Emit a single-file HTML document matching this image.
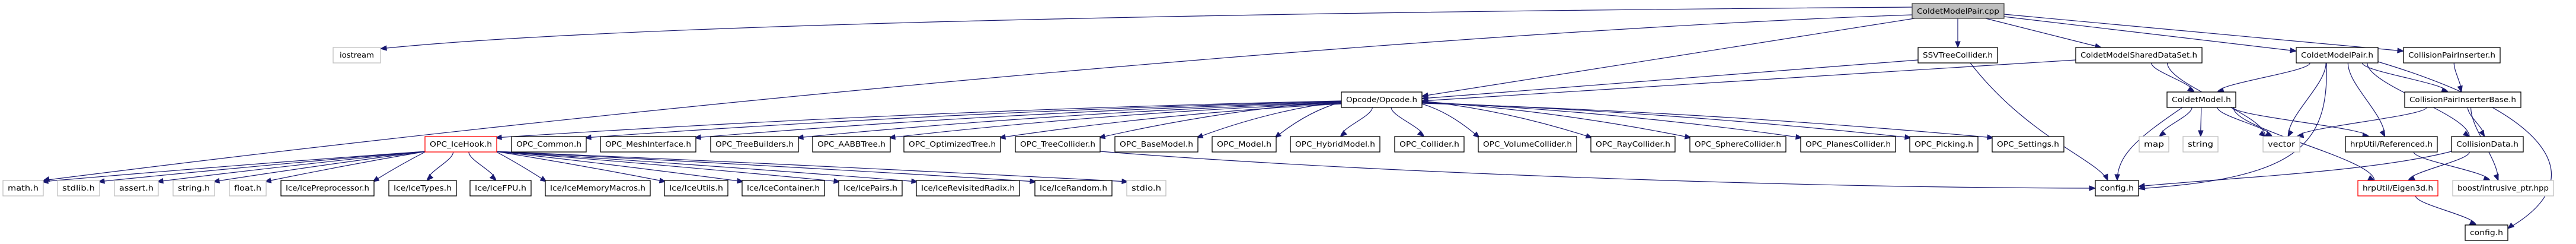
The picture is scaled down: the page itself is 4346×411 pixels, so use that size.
<!DOCTYPE html>
<html><head><meta charset="utf-8"><style>
html,body{margin:0;padding:0;background:#fff;}
svg{display:block;}
text{font-family:"DejaVu Sans","Liberation Sans",sans-serif;font-size:12px;fill:#000;}
</style></head><body>
<svg id="g" width="4346" height="411" viewBox="0 0 4346 411" xmlns="http://www.w3.org/2000/svg">
<g id="edges" fill="none" stroke="#191970" stroke-width="1.2"></g>
<g id="arrows" fill="#191970" stroke="#191970"></g>
<g id="nodes" stroke-width="1.3">
<rect x="3226" y="6" width="155" height="25" fill="#bfbfbf" stroke="#404040"/><text x="3303.5" y="23" text-anchor="middle" textLength="139" lengthAdjust="spacingAndGlyphs">ColdetModelPair.cpp</text>
<rect x="562" y="80" width="80" height="26" fill="#fff" stroke="#bfbfbf"/><text x="602" y="97" text-anchor="middle" textLength="58" lengthAdjust="spacingAndGlyphs">iostream</text>
<rect x="3236" y="80" width="134" height="26" fill="#fff" stroke="#000"/><text x="3303" y="97" text-anchor="middle" textLength="118" lengthAdjust="spacingAndGlyphs">SSVTreeCollider.h</text>
<rect x="3502" y="80" width="213" height="26" fill="#fff" stroke="#000"/><text x="3608.5" y="97" text-anchor="middle" textLength="197" lengthAdjust="spacingAndGlyphs">ColdetModelSharedDataSet.h</text>
<rect x="3874" y="80" width="138" height="26" fill="#fff" stroke="#000"/><text x="3943" y="97" text-anchor="middle" textLength="122" lengthAdjust="spacingAndGlyphs">ColdetModelPair.h</text>
<rect x="4055" y="80" width="163" height="26" fill="#fff" stroke="#000"/><text x="4136.5" y="97" text-anchor="middle" textLength="147" lengthAdjust="spacingAndGlyphs">CollisionPairInserter.h</text>
<rect x="2263" y="155" width="136" height="26" fill="#fff" stroke="#000"/><text x="2331" y="172" text-anchor="middle" textLength="120" lengthAdjust="spacingAndGlyphs">Opcode/Opcode.h</text>
<rect x="3656" y="155" width="116" height="26" fill="#fff" stroke="#000"/><text x="3714" y="172" text-anchor="middle" textLength="100" lengthAdjust="spacingAndGlyphs">ColdetModel.h</text>
<rect x="4057" y="155" width="196" height="26" fill="#fff" stroke="#000"/><text x="4155" y="172" text-anchor="middle" textLength="180" lengthAdjust="spacingAndGlyphs">CollisionPairInserterBase.h</text>
</g>
</svg>
<script>
var N={
cpp:[3226,6,155,25],iostream:[562,80,80,26],ssv:[3236,80,134,26],sds:[3502,80,213,26],cmph:[3874,80,138,26],cpi:[4055,80,163,26],
opc:[2263,155,136,26],cm:[3656,155,116,26],cpib:[4057,155,196,26]};
var row4=[["icehook",717,838,"OPC_IceHook.h","r"],["common",863,989,"OPC_Common.h","b"],["mesh",1013,1174,"OPC_MeshInterface.h","b"],["tb",1199,1347,"OPC_TreeBuilders.h","b"],["aabb",1371,1502,"OPC_AABBTree.h","b"],["opt",1525,1688,"OPC_OptimizedTree.h","b"],["tc",1713,1856,"OPC_TreeCollider.h","b"],["bm",1881,2021,"OPC_BaseModel.h","b"],["model",2045,2153,"OPC_Model.h","b"],["hybrid",2177,2328,"OPC_HybridModel.h","b"],["coll",2353,2470,"OPC_Collider.h","b"],["vol",2494,2660,"OPC_VolumeCollider.h","b"],["ray",2684,2826,"OPC_RayCollider.h","b"],["sph",2851,3013,"OPC_SphereCollider.h","b"],["planes",3038,3198,"OPC_PlanesCollider.h","b"],["pick",3222,3337,"OPC_Picking.h","b"],["sett",3361,3482,"OPC_Settings.h","b"],["map",3609,3659,"map","g"],["string",3683,3742,"string","g"],["vector",3818,3880,"vector","g"],["ref",3957,4112,"hrpUtil/Referenced.h","b"],["cd",4136,4257,"CollisionData.h","b"]];
var row5=[["math",5,73,"math.h","g"],["stdlib",97,168,"stdlib.h","g"],["assert",193,267,"assert.h","g"],["stringh",292,362,"string.h","g"],["float",387,449,"float.h","g"],["pre",474,631,"Ice/IcePreprocessor.h","b"],["types",656,770,"Ice/IceTypes.h","b"],["fpu",793,896,"Ice/IceFPU.h","b"],["mem",920,1097,"Ice/IceMemoryMacros.h","b"],["utils",1121,1228,"Ice/IceUtils.h","b"],["cont",1252,1391,"Ice/IceContainer.h","b"],["pairs",1415,1522,"Ice/IcePairs.h","b"],["radix",1546,1720,"Ice/IceRevisitedRadix.h","b"],["rand",1746,1876,"Ice/IceRandom.h","b"],["stdio",1901,1967,"stdio.h","g"],["config",3535,3608,"config.h","b"],["eigen",3978,4113,"hrpUtil/Eigen3d.h","r"],["boost",4138,4308,"boost/intrusive_ptr.hpp","g"]];
var row6=[["config2",4159,4231,"config.h","b"]];
var ns="http://www.w3.org/2000/svg",nodes=document.getElementById("nodes");
function el(t,a,p){var e=document.createElementNS(ns,t);for(var k in a)e.setAttribute(k,a[k]);(p||nodes).appendChild(e);return e;}
function add(list,y){list.forEach(function(r){var w=r[2]-r[1];N[r[0]]=[r[1],y,w,26];
el("rect",{x:r[1],y:y,width:w,height:26,fill:"#fff",stroke:r[4]=="r"?"#ff0000":(r[4]=="g"?"#bfbfbf":"#000")});
var t=el("text",{x:r[1]+w/2,y:y+17,"text-anchor":"middle",textLength:Math.max(10,w-16),lengthAdjust:"spacingAndGlyphs"});t.textContent=r[3];});}
add(row4,230);add(row5,304);add(row6,379);
var E=document.getElementById("edges"),A=document.getElementById("arrows");
function arrow(x,y,px,py){var dx=x-px,dy=y-py,l=Math.hypot(dx,dy)||1;dx/=l;dy/=l;var L=10,W=4;
var bx=x-dx*L,by=y-dy*L;el("polygon",{points:x+","+y+" "+(bx-dy*W)+","+(by+dx*W)+" "+(bx+dy*W)+","+(by-dx*W)},A);}
function path(d,tx,ty,px,py){el("path",{d:d},E);arrow(tx,ty,px,py);}
function edge(s,t){var S=N[s],T=N[t];var scx=S[0]+S[2]/2,tcx=T[0]+T[2]/2;
var sx=scx+Math.max(-S[2]/2+4,Math.min(S[2]/2-4,(tcx-scx)*0.2)),sy=S[1]+S[3];
var tx=tcx+Math.max(-T[2]/2+4,Math.min(T[2]/2-4,(scx-tcx)*0.12)),ty=T[1];
path("M"+sx+","+sy+" C"+sx+","+(sy+(ty-sy)*0.3)+" "+tx+","+(ty-(ty-sy)*0.3)+" "+tx+","+ty,tx,ty,tx+(sx-tx)*0.05,ty-(ty-sy)*0.05);}
function line(sx,sy,tx,ty){path("M"+sx+","+sy+" L"+tx+","+ty,tx,ty,sx,sy);}
function fan(s,t,sy,bottom){var S=N[s],T=N[t];var scx=S[0]+S[2]/2,tcx=T[0]+T[2]/2;var sx,tx,ty=T[1]+2;
if(Math.abs(tcx-scx)<S[2]*1.3){edge(s,t);return;}
if(tcx<scx){sx=S[0]+(bottom?2:0);tx=T[0]+T[2]-2;}else{sx=S[0]+S[2]-(bottom?2:0);tx=T[0]+2;}
var my=sy+(ty-sy)*0.25;if(bottom)my=sy+(ty-sy)*0.45;
var mx=sx+(tx-sx)*0.5;path("M"+sx+","+sy+" Q"+mx+","+my+" "+tx+","+ty,tx,ty,mx,my);}
// specials
path("M3226,12 C2400,18 1100,35 642,82",642,82,1100,35);
path("M3226,25 C2500,50 1200,160 73,304",73,304,300,250);
line(3230,31,2399,162);
line(3236,101,2399,166);
line(3502,101,2399,170);
line(3303,31,3303,80);
line(3350,31,3545,80);
line(3381,28,3874,86);
line(3381,24,4055,86);
path("M1856,255 C2300,290 3000,316 3535,317",3535,317,3000,316);
path("M4012,104 C4300,190 4380,300 4231,385",4231,385,4300,330);
path("M3925,106 C3930,250 3870,300 3608,318",3608,318,3700,300);
path("M4136,255 C4000,290 3750,300 3608,314",3608,314,3700,302);
path("M3324,106 C3420,230 3540,270 3556,304",3556,304,3548,285);
path("M3682,181 C3610,230 3572,260 3572,304",3572,304,3572,280);
row4.slice(0,17).forEach(function(r,i){fan("opc",r[0],170+(i%6));});
["math","stdlib","assert","stringh","float","pre","types","fpu","mem","utils","cont","pairs","radix","rand","stdio"].forEach(function(k,i){fan("icehook",k,255,true);});
edge("sds","cm");edge("sds","vector");
["cm","vector","ref","cd","cpib"].forEach(function(k){edge("cmph",k);});
edge("cpi","cpib");
["map","string","vector","eigen","ref"].forEach(function(k){edge("cm",k);});
["vector","cd","boost"].forEach(function(k){edge("cpib",k);});
edge("ref","boost");edge("cd","eigen");edge("eigen","config2");
</script>
</body></html>
